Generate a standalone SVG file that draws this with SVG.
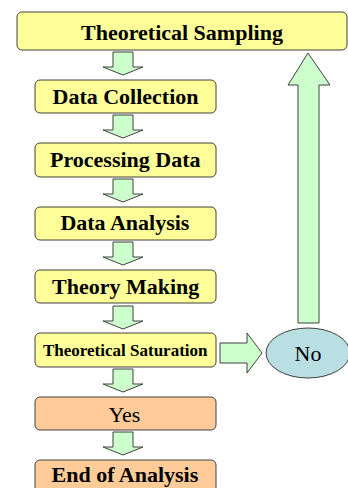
<svg xmlns="http://www.w3.org/2000/svg" width="348" height="488" viewBox="0 0 348 488">
<style>
.box{fill:#FFFF99;stroke:#404040;stroke-width:1}
.obox{fill:#FFCC99;stroke:#404040;stroke-width:1}
.arr{fill:#CCFFCC;stroke:#404040;stroke-width:1}
</style>
<g id="connectors">
<path class="arr" d="M113,52 H133 V67 H143 L123,75 L103,67 H113 Z"/>
<path class="arr" d="M113,115 H133 V130 H143 L123,138 L103,130 H113 Z"/>
<path class="arr" d="M113,179 H133 V194 H143 L123,202 L103,194 H113 Z"/>
<path class="arr" d="M113,242 H133 V257 H143 L123,265 L103,257 H113 Z"/>
<path class="arr" d="M113,306 H133 V321 H143 L123,329 L103,321 H113 Z"/>
<path class="arr" d="M113,369 H133 V384 H143 L123,392 L103,384 H113 Z"/>
<path class="arr" d="M113,432 H133 V447 H143 L123,455 L103,447 H113 Z"/>
<path class="arr" d="M220,343 H247 V333 L262,353 L247,373 V363 H220 Z"/>
<path class="arr" d="M298,323 V85 H288 L308,53 L330,85 H319 V323 Z"/>
</g>
<g id="n1"><rect class="box" x="17" y="12" width="330" height="38" rx="5"/><text x="81" y="40" font-size="22" font-weight="bold" font-family="Liberation Serif, serif" style="font-family:'Liberation Serif',serif">Theoretical Sampling</text></g>
<g id="n2"><rect class="box" x="35" y="80" width="181" height="33" rx="5"/><text x="52.5" y="104" font-size="22" font-weight="bold" font-family="Liberation Serif, serif" style="font-family:'Liberation Serif',serif">Data Collection</text></g>
<g id="n3"><rect class="box" x="35" y="143" width="181" height="34" rx="5"/><text x="50" y="167" font-size="22" font-weight="bold" font-family="Liberation Serif, serif" style="font-family:'Liberation Serif',serif">Processing Data</text></g>
<g id="n4"><rect class="box" x="35" y="207" width="181" height="33" rx="5"/><text x="60.4" y="230" font-size="22" font-weight="bold" font-family="Liberation Serif, serif" style="font-family:'Liberation Serif',serif">Data Analysis</text></g>
<g id="n5"><rect class="box" x="35" y="270" width="181" height="33" rx="5"/><text x="52" y="294" font-size="22" font-weight="bold" font-family="Liberation Serif, serif" style="font-family:'Liberation Serif',serif">Theory Making</text></g>
<g id="n6"><rect class="box" x="35" y="333" width="181" height="34" rx="5"/><text x="43" y="356" font-size="17" font-weight="bold" font-family="Liberation Serif, serif" style="font-family:'Liberation Serif',serif">Theoretical Saturation</text></g>
<g id="n7"><rect class="obox" x="35" y="397" width="181" height="33" rx="5"/><text x="108.4" y="422" font-size="22" font-family="Liberation Serif, serif" style="font-family:'Liberation Serif',serif">Yes</text></g>
<g id="n8"><rect class="obox" x="35" y="460" width="181" height="33" rx="5"/><text x="51.5" y="482" font-size="22" font-weight="bold" font-family="Liberation Serif, serif" style="font-family:'Liberation Serif',serif">End of Analysis</text></g>
<g id="n9"><ellipse cx="308" cy="353" rx="42" ry="25" fill="#B9DFE3" stroke="#404040"/><text x="294.6" y="361" font-size="22" font-family="Liberation Serif, serif" style="font-family:'Liberation Serif',serif">No</text></g>
</svg>
